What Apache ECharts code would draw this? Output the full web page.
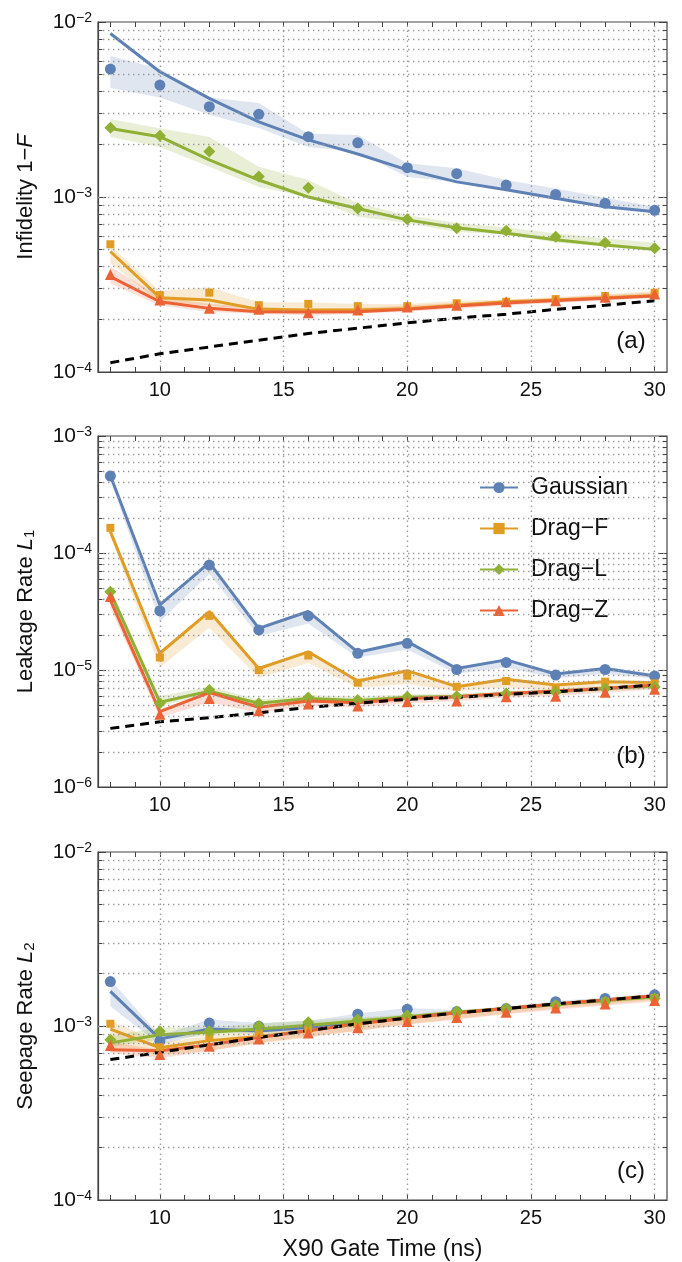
<!DOCTYPE html>
<html>
<head>
<meta charset="utf-8">
<script src="https://cdn.jsdelivr.net/npm/echarts@6/dist/echarts.min.js"></script>
<style>
  html, body { margin: 0; padding: 0; background: #fff; }
  #chart { width: 682px; height: 1262px; }
</style>
</head>
<body>
<div id="chart"></div>
<script>
// gate times (ns)
const xTimes = [8, 10, 12, 14, 16, 18, 20, 22, 24, 26, 28, 30]
const xMajor = [10, 15, 20, 25, 30]
const xMinor = [8, 9, 10, 11, 12, 13, 14, 15, 16, 17, 18, 19, 20, 21, 22, 23, 24, 25, 26, 27, 28, 29, 30]
const gridMantissas = [1, 2, 3, 4, 5, 6, 7, 8, 9]

// (a) infidelity 1-F
const gaussA = [5.38e-3, 4.36e-3, 3.28e-3, 2.97e-3, 2.21e-3, 2.04e-3, 1.47e-3, 1.36e-3, 1.17e-3, 1.035e-3, 9.2e-4, 8.4e-4]
const gaussSimA = [8.6e-3, 5.2e-3, 3.66e-3, 2.69e-3, 2.12e-3, 1.76e-3, 1.43e-3, 1.22e-3, 1.10e-3, 9.85e-4, 8.8e-4, 8.24e-4]
const gaussLoA = [4.2e-3, 3.7e-3, 2.95e-3, 2.48e-3, 1.93e-3, 1.81e-3, 1.30e-3, 1.22e-3, 1.10e-3, 9.6e-4, 8.7e-4, 8.1e-4]
const gaussHiA = [6.4e-3, 5.4e-3, 3.7e-3, 3.45e-3, 2.3e-3, 2.26e-3, 1.56e-3, 1.46e-3, 1.25e-3, 1.12e-3, 9.9e-4, 8.8e-4]
const dragFA = [5.37e-4, 2.75e-4, 2.84e-4, 2.41e-4, 2.45e-4, 2.38e-4, 2.38e-4, 2.47e-4, 2.52e-4, 2.61e-4, 2.72e-4, 2.84e-4]
const dragFSimA = [4.88e-4, 2.66e-4, 2.58e-4, 2.28e-4, 2.26e-4, 2.26e-4, 2.30e-4, 2.41e-4, 2.52e-4, 2.58e-4, 2.66e-4, 2.74e-4]
const dragFLoA = [4.2e-4, 2.5e-4, 2.4e-4, 2.25e-4, 2.2e-4, 2.2e-4, 2.25e-4, 2.35e-4, 2.45e-4, 2.5e-4, 2.6e-4, 2.68e-4]
const dragFHiA = [5.3e-4, 2.9e-4, 3.05e-4, 2.5e-4, 2.5e-4, 2.45e-4, 2.45e-4, 2.55e-4, 2.6e-4, 2.68e-4, 2.78e-4, 2.9e-4]
const dragLA = [2.49e-3, 2.24e-3, 1.82e-3, 1.31e-3, 1.13e-3, 8.6e-4, 7.46e-4, 6.63e-4, 6.42e-4, 5.93e-4, 5.48e-4, 5.09e-4]
const dragLSimA = [2.46e-3, 2.21e-3, 1.63e-3, 1.25e-3, 1.0e-3, 8.6e-4, 7.4e-4, 6.68e-4, 6.2e-4, 5.7e-4, 5.32e-4, 5.02e-4]
const dragLLoA = [2.2e-3, 1.93e-3, 1.49e-3, 1.14e-3, 1.0e-3, 7.7e-4, 7.1e-4, 6.3e-4, 6.1e-4, 5.5e-4, 5.2e-4, 4.9e-4]
const dragLHiA = [2.79e-3, 2.47e-3, 2.2e-3, 1.49e-3, 1.25e-3, 9.2e-4, 7.9e-4, 7.1e-4, 6.7e-4, 6.2e-4, 5.8e-4, 5.5e-4]
const dragZA = [3.61e-4, 2.58e-4, 2.31e-4, 2.28e-4, 2.18e-4, 2.26e-4, 2.35e-4, 2.41e-4, 2.52e-4, 2.55e-4, 2.67e-4, 2.79e-4]
const dragZSimA = [3.51e-4, 2.52e-4, 2.31e-4, 2.21e-4, 2.2e-4, 2.21e-4, 2.28e-4, 2.38e-4, 2.48e-4, 2.56e-4, 2.64e-4, 2.72e-4]
const dragZLoA = [3.2e-4, 2.4e-4, 2.2e-4, 2.15e-4, 2.1e-4, 2.15e-4, 2.22e-4, 2.3e-4, 2.4e-4, 2.48e-4, 2.56e-4, 2.65e-4]
const dragZHiA = [4.0e-4, 2.7e-4, 2.45e-4, 2.35e-4, 2.3e-4, 2.32e-4, 2.4e-4, 2.48e-4, 2.58e-4, 2.65e-4, 2.75e-4, 2.85e-4]
const limitA = [1.13e-4, 1.27e-4, 1.39e-4, 1.52e-4, 1.66e-4, 1.78e-4, 1.91e-4, 2.03e-4, 2.14e-4, 2.28e-4, 2.41e-4, 2.55e-4]

// (b) leakage rate L1
const gaussB = [4.55e-4, 3.21e-5, 7.89e-5, 2.2e-5, 2.9e-5, 1.39e-5, 1.69e-5, 1.01e-5, 1.16e-5, 9.06e-6, 1.01e-5, 8.9e-6]
const gaussSimB = [4.6e-4, 3.6e-5, 8.26e-5, 2.27e-5, 3.16e-5, 1.42e-5, 1.75e-5, 1.03e-5, 1.22e-5, 9.25e-6, 1.03e-5, 8.9e-6]
const gaussLoB = [4.2e-4, 2.6e-5, 6.6e-5, 1.95e-5, 2.5e-5, 1.28e-5, 1.5e-5, 9.3e-6, 1.05e-5, 8.5e-6, 9.3e-6, 8.4e-6]
const gaussHiB = [4.8e-4, 3.7e-5, 8.5e-5, 2.35e-5, 3.25e-5, 1.46e-5, 1.8e-5, 1.06e-5, 1.25e-5, 9.5e-6, 1.06e-5, 9.3e-6]
const dragFB = [1.64e-4, 1.28e-5, 2.9e-5, 1.0e-5, 1.33e-5, 7.8e-6, 8.93e-6, 7.2e-6, 8.05e-6, 7.06e-6, 7.95e-6, 7.69e-6]
const dragFSimB = [1.52e-4, 1.39e-5, 3.16e-5, 1.03e-5, 1.43e-5, 8.05e-6, 9.87e-6, 7.2e-6, 8.32e-6, 7.45e-6, 7.95e-6, 7.8e-6]
const dragFLoB = [1.4e-4, 1.05e-5, 2.3e-5, 8.6e-6, 1.15e-5, 7.0e-6, 7.6e-6, 6.6e-6, 7.1e-6, 6.6e-6, 7.0e-6, 7.0e-6]
const dragFHiB = [1.7e-4, 1.45e-5, 3.25e-5, 1.06e-5, 1.47e-5, 8.3e-6, 1.0e-5, 7.5e-6, 8.5e-6, 7.6e-6, 8.2e-6, 8.0e-6]
const dragLB = [4.67e-5, 5.19e-6, 6.74e-6, 5.19e-6, 5.83e-6, 5.54e-6, 5.91e-6, 5.98e-6, 6.31e-6, 6.5e-6, 6.96e-6, 7.2e-6]
const dragLSimB = [4.6e-5, 5.3e-6, 6.6e-6, 5.2e-6, 5.7e-6, 5.5e-6, 5.85e-6, 5.95e-6, 6.3e-6, 6.55e-6, 6.95e-6, 7.3e-6]
const dragLLoB = [4.2e-5, 4.9e-6, 6.2e-6, 4.9e-6, 5.4e-6, 5.2e-6, 5.55e-6, 5.65e-6, 6.0e-6, 6.2e-6, 6.6e-6, 6.9e-6]
const dragLHiB = [4.9e-5, 6.0e-6, 7.2e-6, 5.6e-6, 6.1e-6, 5.9e-6, 6.2e-6, 6.3e-6, 6.6e-6, 6.85e-6, 7.3e-6, 7.6e-6]
const dragZB = [4.24e-5, 4.18e-6, 5.72e-6, 4.49e-6, 5.12e-6, 4.92e-6, 5.36e-6, 5.44e-6, 5.91e-6, 5.98e-6, 6.44e-6, 6.84e-6]
const dragZSimB = [3.96e-5, 4.4e-6, 6.4e-6, 4.8e-6, 5.43e-6, 5.26e-6, 5.72e-6, 5.91e-6, 6.31e-6, 6.6e-6, 6.96e-6, 7.45e-6]
const dragZLoB = [3.4e-5, 3.9e-6, 5.3e-6, 4.3e-6, 4.9e-6, 4.8e-6, 5.2e-6, 5.4e-6, 5.8e-6, 6.0e-6, 6.4e-6, 6.8e-6]
const dragZHiB = [4.4e-5, 4.6e-6, 6.6e-6, 5.0e-6, 5.6e-6, 5.4e-6, 5.9e-6, 6.05e-6, 6.45e-6, 6.75e-6, 7.1e-6, 7.6e-6]
const limitB = [3.17e-6, 3.61e-6, 3.91e-6, 4.31e-6, 4.8e-6, 5.19e-6, 5.62e-6, 5.83e-6, 6.19e-6, 6.5e-6, 6.96e-6, 7.45e-6]

// (c) seepage rate L2
const gaussC = [1.8e-3, 8.18e-4, 1.04e-3, 9.96e-4, 1.0e-3, 1.17e-3, 1.25e-3, 1.21e-3, 1.26e-3, 1.38e-3, 1.44e-3, 1.51e-3]
const gaussSimC = [1.58e-3, 8.43e-4, 9.61e-4, 9.35e-4, 9.8e-4, 1.05e-3, 1.12e-3, 1.19e-3, 1.26e-3, 1.33e-3, 1.41e-3, 1.48e-3]
const gaussLoC = [1.3e-3, 7.8e-4, 9.2e-4, 9.0e-4, 9.5e-4, 1.02e-3, 1.1e-3, 1.17e-3, 1.24e-3, 1.31e-3, 1.38e-3, 1.46e-3]
const gaussHiC = [1.85e-3, 8.8e-4, 1.09e-3, 1.04e-3, 1.07e-3, 1.18e-3, 1.27e-3, 1.23e-3, 1.29e-3, 1.39e-3, 1.46e-3, 1.53e-3]
const dragFC = [1.03e-3, 7.55e-4, 8.6e-4, 9.1e-4, 9.6e-4, 1.03e-3, 1.1e-3, 1.17e-3, 1.24e-3, 1.3e-3, 1.38e-3, 1.45e-3]
const dragFSimC = [9.6e-4, 7.5e-4, 8.24e-4, 8.7e-4, 9.4e-4, 1.03e-3, 1.11e-3, 1.19e-3, 1.26e-3, 1.34e-3, 1.41e-3, 1.49e-3]
const dragFLoC = [7.5e-4, 6.8e-4, 7.2e-4, 7.9e-4, 8.6e-4, 9.4e-4, 1.02e-3, 1.1e-3, 1.18e-3, 1.26e-3, 1.33e-3, 1.41e-3]
const dragFHiC = [1.08e-3, 8.0e-4, 8.8e-4, 9.3e-4, 9.9e-4, 1.06e-3, 1.13e-3, 1.2e-3, 1.27e-3, 1.34e-3, 1.42e-3, 1.5e-3]
const dragLC = [8.35e-4, 9.33e-4, 9.33e-4, 1.0e-3, 1.05e-3, 1.09e-3, 1.15e-3, 1.21e-3, 1.26e-3, 1.32e-3, 1.38e-3, 1.44e-3]
const dragLSimC = [8.0e-4, 8.9e-4, 9.2e-4, 9.6e-4, 1.01e-3, 1.07e-3, 1.13e-3, 1.2e-3, 1.26e-3, 1.33e-3, 1.4e-3, 1.47e-3]
const dragLLoC = [7.6e-4, 8.4e-4, 8.8e-4, 9.3e-4, 9.8e-4, 1.04e-3, 1.1e-3, 1.17e-3, 1.23e-3, 1.3e-3, 1.37e-3, 1.43e-3]
const dragLHiC = [8.8e-4, 9.8e-4, 9.8e-4, 1.03e-3, 1.08e-3, 1.12e-3, 1.17e-3, 1.23e-3, 1.29e-3, 1.35e-3, 1.41e-3, 1.48e-3]
const dragZC = [7.73e-4, 6.86e-4, 7.66e-4, 8.43e-4, 9.12e-4, 9.76e-4, 1.06e-3, 1.12e-3, 1.2e-3, 1.27e-3, 1.34e-3, 1.40e-3]
const dragZSimC = [7.3e-4, 7.2e-4, 7.8e-4, 8.6e-4, 9.4e-4, 1.03e-3, 1.11e-3, 1.19e-3, 1.26e-3, 1.34e-3, 1.41e-3, 1.49e-3]
const dragZLoC = [7.0e-4, 6.5e-4, 7.2e-4, 8.0e-4, 8.7e-4, 9.4e-4, 1.02e-3, 1.09e-3, 1.17e-3, 1.24e-3, 1.31e-3, 1.38e-3]
const dragZHiC = [8.1e-4, 7.3e-4, 7.9e-4, 8.7e-4, 9.5e-4, 1.03e-3, 1.11e-3, 1.19e-3, 1.26e-3, 1.34e-3, 1.41e-3, 1.49e-3]
const limitC = [6.41e-4, 7.06e-4, 7.79e-4, 8.6e-4, 9.4e-4, 1.03e-3, 1.11e-3, 1.19e-3, 1.26e-3, 1.34e-3, 1.41e-3, 1.49e-3]

const methods = ['Gaussian', 'Drag\u2212F', 'Drag\u2212L', 'Drag\u2212Z']
const colors = ['#5e81b5', '#e19c24', '#8fb032', '#eb6235']
const symbols = ['circle', 'rect', 'diamond', 'triangle']
const symbolSizes = [11, 8, 12, 11]
const FONT = '"Liberation Sans", Arial, Helvetica, sans-serif'
const X_MIN = 7.5, X_MAX = 30.5

const panels = [
  {
    measured: [gaussA, dragFA, dragLA, dragZA], sim: [gaussSimA, dragFSimA, dragLSimA, dragZSimA],
    lo: [gaussLoA, dragFLoA, dragLLoA, dragZLoA], hi: [gaussHiA, dragFHiA, dragLHiA, dragZHiA],
    limit: limitA, min: 1e-4, max: 1e-2, top: 22, height: 350, tag: '(a)',
    name: 'Infidelity 1\u2212{i|F}'
  },
  {
    measured: [gaussB, dragFB, dragLB, dragZB], sim: [gaussSimB, dragFSimB, dragLSimB, dragZSimB],
    lo: [gaussLoB, dragFLoB, dragLLoB, dragZLoB], hi: [gaussHiB, dragFHiB, dragLHiB, dragZHiB],
    limit: limitB, min: 1e-6, max: 1e-3, top: 436, height: 351, tag: '(b)',
    name: 'Leakage Rate {i|L}{sub|1}'
  },
  {
    measured: [gaussC, dragFC, dragLC, dragZC], sim: [gaussSimC, dragFSimC, dragLSimC, dragZSimC],
    lo: [gaussLoC, dragFLoC, dragLLoC, dragZLoC], hi: [gaussHiC, dragFHiC, dragLHiC, dragZHiC],
    limit: limitC, min: 1e-4, max: 1e-2, top: 852, height: 350, tag: '(c)',
    name: 'Seepage Rate {i|L}{sub|2}'
  }
]

const pairs = ys => xTimes.map((x, i) => [x, ys[i]])

function decadeLabel(v) {
  const e = Math.round(Math.log10(v))
  return '{b|10}{s|' + (e < 0 ? '\u2212' + (-e) : e) + '}'
}

// 1..9 x 10^d inside the axis range (edges excluded)
function gridLineValues(p) {
  const out = []
  const d0 = Math.round(Math.log10(p.min)), d1 = Math.round(Math.log10(p.max))
  for (let d = d0; d < d1; d++) {
    gridMantissas.forEach(m => {
      const v = m * Math.pow(10, d)
      if (v > p.min * 1.001 && v < p.max * 0.999) out.push(v)
    })
  }
  return out
}

const grids = [], xAxes = [], yAxes = [], series = [], graphics = []
const tickStyle = { color: '#444', width: 1 }

panels.forEach((p, k) => {
  grids.push({ left: 98, width: 569, top: p.top, height: p.height, show: true, borderColor: '#444', borderWidth: 1.2, backgroundColor: 'transparent' })

  xAxes.push({
    type: 'value', gridIndex: k, min: X_MIN, max: X_MAX, position: 'bottom',
    axisLine: { show: true, lineStyle: { color: '#444', width: 1.2 } },
    splitLine: { show: false },
    axisTick: { inside: true, length: 5, customValues: xMinor, lineStyle: tickStyle },
    axisLabel: { customValues: xMajor, fontSize: 20, margin: 8, color: '#111', fontFamily: FONT },
    name: k === 2 ? 'X90 Gate Time (ns)' : '', nameLocation: 'middle', nameGap: 38,
    nameTextStyle: { fontSize: 23, color: '#111', fontFamily: FONT }
  })
  xAxes.push({
    type: 'value', gridIndex: k, min: X_MIN, max: X_MAX, position: 'top',
    axisLine: { show: false }, splitLine: { show: false }, axisLabel: { show: false },
    axisTick: { inside: true, length: 5, customValues: xMinor, lineStyle: tickStyle }
  })

  yAxes.push({
    type: 'log', logBase: 10, gridIndex: k, min: p.min, max: p.max, position: 'left',
    axisLine: { show: true, lineStyle: { color: '#444', width: 1.2 } },
    splitLine: { show: false },
    axisTick: { inside: true, length: 8, lineStyle: tickStyle },
    axisLabel: {
      formatter: decadeLabel, margin: 6, color: '#111',
      rich: {
        b: { fontSize: 21, lineHeight: 21, fontFamily: FONT, color: '#111' },
        s: { fontSize: 14, lineHeight: 14, verticalAlign: 'top', fontFamily: FONT, color: '#111' }
      }
    },
    name: p.name, nameLocation: 'middle', nameGap: 61,
    nameTextStyle: {
      fontSize: 22, color: '#111', fontFamily: FONT,
      rich: {
        i: { fontSize: 22, fontStyle: 'italic', fontFamily: FONT, color: '#111' },
        sub: { fontSize: 15, lineHeight: 12, verticalAlign: 'bottom', fontFamily: FONT, color: '#111' }
      }
    }
  })
  yAxes.push({
    type: 'log', logBase: 10, gridIndex: k, min: p.min, max: p.max, position: 'right',
    axisLine: { show: false }, splitLine: { show: false }, axisLabel: { show: false },
    axisTick: { inside: true, length: 8, lineStyle: tickStyle }
  })

  const xi = 2 * k, yi = 2 * k
  const hVals = gridLineValues(p)

  // dotted gridlines
  series.push({
    type: 'line', xAxisIndex: xi, yAxisIndex: yi, data: [], z: 0, silent: true,
    markLine: {
      silent: true, symbol: 'none', animation: false, label: { show: false },
      lineStyle: { type: [1.4, 3.6], color: '#9a9a9a', width: 1.4 },
      emphasis: { disabled: true },
      data: hVals.map(v => [{ coord: [X_MIN, v] }, { coord: [X_MAX, v] }])
        .concat(xMajor.map(v => [{ coord: [v, p.min] }, { coord: [v, p.max] }]))
    }
  })

  // short minor ticks on the log axes (left and right edges)
  series.push({
    type: 'line', xAxisIndex: xi, yAxisIndex: yi, data: [], z: 2, silent: true,
    markLine: {
      silent: true, symbol: 'none', animation: false, label: { show: false },
      lineStyle: { type: 'solid', color: '#444', width: 1 },
      emphasis: { disabled: true },
      data: hVals.filter(v => Math.abs(Math.log10(v) - Math.round(Math.log10(v))) > 1e-6)
        .flatMap(v => [
          [{ coord: [X_MIN, v] }, { coord: [X_MIN + 0.18, v] }],
          [{ coord: [X_MAX - 0.18, v] }, { coord: [X_MAX, v] }]
        ])
    }
  })

  // shaded spread bands
  methods.forEach((m, j) => {
    const lo = p.lo[j], hi = p.hi[j]
    series.push({
      type: 'custom', name: m + ' band ' + k, xAxisIndex: xi, yAxisIndex: yi, z: 1, silent: true,
      data: xTimes.map((x, i) => [x, lo[i], hi[i]]),
      encode: { x: 0, y: [1, 2] },
      renderItem(params, api) {
        if (params.dataIndex !== 0) return null
        const top = xTimes.map((x, i) => api.coord([x, hi[i]]))
        const bot = xTimes.map((x, i) => api.coord([x, lo[i]])).reverse()
        return { type: 'polygon', shape: { points: top.concat(bot) }, style: { fill: colors[j], opacity: 0.2 } }
      }
    })
  })

  // simulation lines
  methods.forEach((m, j) => {
    series.push({
      type: 'line', name: m + ' sim ' + k, xAxisIndex: xi, yAxisIndex: yi, z: 3, silent: true,
      data: pairs(p.sim[j]), showSymbol: false, symbol: 'none',
      lineStyle: { color: colors[j], width: 3 }
    })
  })

  // dashed reference curve
  series.push({
    type: 'line', name: 'limit ' + k, xAxisIndex: xi, yAxisIndex: yi, z: 4, silent: true,
    data: pairs(p.limit), showSymbol: false, symbol: 'none',
    lineStyle: { color: '#000', width: 3, type: [9, 6] }
  })

  // measured points
  methods.forEach((m, j) => {
    series.push({
      type: 'scatter', name: m + ' data ' + k, xAxisIndex: xi, yAxisIndex: yi, z: 5, silent: true,
      data: pairs(p.measured[j]), symbol: symbols[j], symbolSize: symbolSizes[j],
      itemStyle: { color: colors[j], opacity: 1 }
    })
  })

  graphics.push({
    type: 'text', x: 631, y: p.top + p.height - 31,
    style: { text: p.tag, fontSize: 24, fontFamily: FONT, fill: '#111', align: 'center', verticalAlign: 'middle' }
  })
})

// legend entries (panel b)
methods.forEach((m, j) => {
  series.push({
    type: 'line', name: m, xAxisIndex: 2, yAxisIndex: 2, data: [],
    symbol: symbols[j], symbolSize: symbolSizes[j],
    lineStyle: { color: colors[j], width: 3.5 }, itemStyle: { color: colors[j] }
  })
})

const option = {
  animation: false,
  backgroundColor: '#fff',
  grid: grids,
  xAxis: xAxes,
  yAxis: yAxes,
  legend: {
    orient: 'vertical', left: 479, top: 476, padding: 0, itemWidth: 38, itemHeight: 14, itemGap: 18,
    selectedMode: false, data: methods,
    textStyle: { fontSize: 23, fontFamily: FONT, color: '#111', padding: [0, 0, 0, 8] }
  },
  graphic: graphics,
  series: series
}

const myChart = echarts.init(document.getElementById('chart'))
myChart.setOption(option)
</script>
</body>
</html>
